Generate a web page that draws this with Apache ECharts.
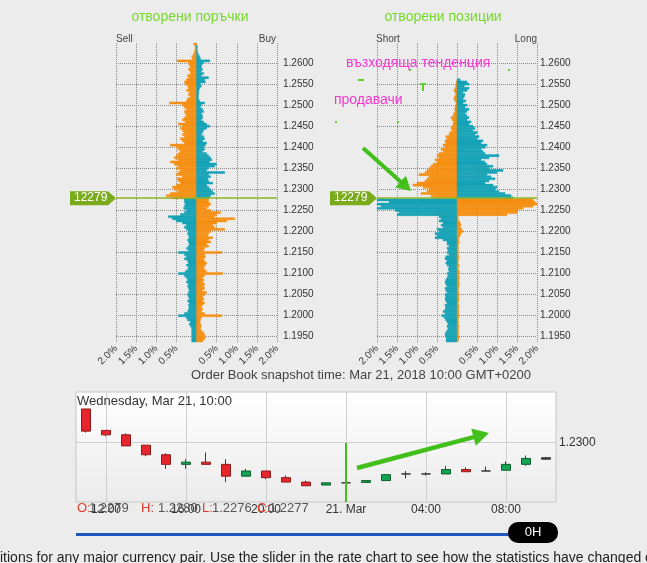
<!DOCTYPE html>
<html><head><meta charset="utf-8">
<script src="https://cdn.jsdelivr.net/npm/echarts@6/dist/echarts.min.js"></script>
<style>html,body{margin:0;padding:0;background:#ececec;overflow:hidden}#c{width:647px;height:563px}</style>
</head><body><div id="c"></div>
<script>
// ---------- DATA ----------
const priceTop = 1.2645, priceStep = 0.0005, bucketCount = 142;
const currentPrice = 1.2279;
const currentPriceText = '12279';
const gridPrices = [1.26,1.255,1.25,1.245,1.24,1.235,1.23,1.225,1.22,1.215,1.21,1.205,1.2,1.195];

// open orders (top bucket -> bottom bucket), % of total
const orderLeft = [
 0.07,0.04,0.03,0.05,0.06,0.08,0.12,0.10,0.48,0.20,
 0.18,0.15,0.20,0.16,0.15,0.22,0.20,0.25,0.30,0.28,
 0.22,0.20,0.25,0.18,0.20,0.15,0.22,0.25,0.67,0.35,
 0.30,0.25,0.30,0.28,0.25,0.30,0.35,0.28,0.45,0.35,
 0.40,0.35,0.30,0.35,0.30,0.40,0.35,0.30,0.65,0.50,
 0.45,0.40,0.45,0.50,0.55,0.45,0.65,0.55,0.45,0.50,
 0.40,0.45,0.50,0.35,0.48,0.45,0.40,0.50,0.60,0.55,
 0.45,0.65,0.75,0.60,0.30,0.30,0.28,0.30,0.32,0.25,
 0.30,0.40,0.70,0.60,0.50,0.35,0.25,0.30,0.25,0.20,
 0.22,0.20,0.18,0.22,0.20,0.18,0.20,0.25,0.20,0.45,
 0.30,0.25,0.30,0.22,0.20,0.25,0.20,0.22,0.28,0.45,
 0.30,0.25,0.22,0.25,0.20,0.22,0.20,0.18,0.20,0.22,
 0.20,0.18,0.22,0.18,0.20,0.18,0.20,0.22,0.30,0.45,
 0.25,0.22,0.15,0.18,0.15,0.12,0.12,0.12,0.12,0.12,
 0.12,0.12];
const orderRight = [
 0.00,0.02,0.02,0.02,0.03,0.05,0.08,0.10,0.33,0.17,
 0.13,0.12,0.15,0.12,0.18,0.12,0.30,0.20,0.22,0.10,
 0.12,0.08,0.06,0.06,0.05,0.05,0.05,0.08,0.20,0.12,
 0.10,0.15,0.18,0.12,0.15,0.15,0.12,0.18,0.25,0.33,
 0.25,0.18,0.15,0.12,0.18,0.20,0.15,0.25,0.22,0.18,
 0.20,0.15,0.25,0.30,0.35,0.38,0.32,0.50,0.45,0.30,
 0.25,0.70,0.30,0.35,0.28,0.30,0.40,0.25,0.30,0.35,
 0.40,0.45,0.35,0.30,0.30,0.30,0.35,0.30,0.25,0.35,
 0.60,0.50,0.45,0.95,0.75,0.50,0.40,0.45,0.70,0.35,
 0.30,0.28,0.40,0.30,0.35,0.25,0.30,0.20,0.18,0.63,
 0.20,0.22,0.18,0.20,0.25,0.22,0.18,0.20,0.25,0.65,
 0.20,0.15,0.18,0.15,0.20,0.18,0.20,0.15,0.25,0.20,
 0.15,0.18,0.15,0.20,0.15,0.12,0.15,0.12,0.20,0.62,
 0.12,0.10,0.08,0.10,0.12,0.10,0.12,0.18,0.20,0.22,
 0.20,0.15];
// open positions
const positionLeft = [
 0,0,0,0,0,0,0,0,0,0,
 0,0,0,0,0,0,0,0,0.02,0.02,
 0.03,0.05,0.08,0.05,0.03,0.06,0.08,0.05,0.02,0.03,
 0.05,0.06,0.05,0.08,0.10,0.15,0.12,0.08,0.10,0.12,
 0.15,0.12,0.18,0.20,0.28,0.25,0.30,0.28,0.35,0.30,
 0.40,0.35,0.45,0.50,0.45,0.55,0.50,0.60,0.65,0.70,
 0.75,0.80,0.95,0.70,0.75,0.80,1.00,1.10,0.85,0.70,
 0.75,0.90,0.65,0.60,2.00,1.70,2.00,1.90,2.00,1.55,
 1.45,1.50,0.45,0.40,0.45,0.35,0.40,0.35,0.50,0.45,
 0.55,0.50,0.55,0.35,0.25,0.25,0.20,0.25,0.22,0.25,
 0.20,0.28,0.30,0.25,0.28,0.25,0.20,0.22,0.20,0.25,
 0.22,0.25,0.28,0.30,0.28,0.25,0.30,0.28,0.25,0.30,
 0.28,0.30,0.28,0.25,0.30,0.28,0.30,0.35,0.30,0.38,
 0.32,0.28,0.25,0.22,0.25,0.22,0.25,0.28,0.30,0.28,
 0.27,0.27];
const positionRight = [
 0,0,0,0,0,0,0,0,0,0,
 0,0,0,0,0,0,0,0.08,0.25,0.30,
 0.18,0.30,0.25,0.15,0.20,0.18,0.15,0.22,0.15,0.25,
 0.20,0.30,0.25,0.20,0.25,0.30,0.25,0.35,0.30,0.40,
 0.45,0.40,0.50,0.45,0.55,0.50,0.65,0.60,0.75,0.70,
 0.60,0.65,0.70,1.05,0.80,0.60,0.70,0.75,0.90,0.80,
 1.15,1.00,0.75,0.85,0.95,0.80,0.70,0.90,1.00,0.95,
 1.05,1.20,1.35,1.40,1.90,1.95,2.00,1.90,1.65,1.50,
 1.50,1.25,0.03,0.03,0.05,0.08,0.10,0.08,0.12,0.15,
 0.10,0.08,0.05,0.04,0.05,0.04,0.03,0.04,0.03,0.04,
 0.03,0.05,0.04,0.03,0.03,0.05,0.04,0.03,0.06,0.05,
 0.04,0.06,0.05,0.04,0.06,0.05,0.04,0.03,0.04,0.05,
 0.04,0.05,0.04,0.03,0.04,0.05,0.04,0.05,0.04,0.05,
 0.04,0.03,0.04,0.03,0.05,0.04,0.03,0.04,0.04,0.05,
 0.04,0.03];

// hourly candles: [open, close, low, high]
const candleTimes = ['11:00','12:00','13:00','14:00','15:00','16:00','17:00','18:00','19:00','20:00','21:00','22:00',
 '23:00','21. Mar','01:00','02:00','03:00','04:00','05:00','06:00','07:00','08:00','09:00','10:00'];
const candleOHLC = [
 [1.2345,1.2315,1.2313,1.2345],[1.2316,1.2310,1.2308,1.2316],[1.2310,1.2295,1.2295,1.2312],
 [1.2296,1.2283,1.2281,1.2296],[1.2283,1.2270,1.2264,1.2285],[1.2270,1.2273,1.2264,1.2277],
 [1.2273,1.2270,1.2270,1.2286],[1.2270,1.2254,1.2246,1.2277],[1.2254,1.2261,1.2254,1.2264],
 [1.2261,1.2252,1.2250,1.2261],[1.2252,1.2246,1.2246,1.2255],[1.2246,1.2241,1.2241,1.2248],
 [1.2242,1.2245,1.2242,1.2245],[1.2245,1.2245,1.2243,1.2247],[1.22455,1.2248,1.22455,1.2248],
 [1.2248,1.2256,1.2248,1.2256],[1.2257,1.2257,1.2251,1.2261],[1.2257,1.2257,1.2255,1.2259],
 [1.2257,1.2263,1.2257,1.2268],[1.2263,1.2260,1.2260,1.2266],[1.2261,1.2261,1.2261,1.2267],
 [1.2262,1.2270,1.2262,1.2274],[1.2270,1.2278,1.2268,1.2282],[1.2279,1.2277,1.2276,1.2280]];
const lastOHLC = {O:'1.2279', H:'1.2280', L:'1.2276', C:'1.2277'};
const candleGridPrice = 1.23;
const candleGridIdx = [1,5,9,13,17,21];

// ---------- CHART ----------
const ORANGE = '#f68f12', TEAL = '#14a2b6', GREEN = '#43bf1c';
const FONT = 'Liberation Sans, Arial, sans-serif';
const categories = [];
for (let i = 0; i < bucketCount; i++) categories.push((priceTop - i * priceStep).toFixed(4));

const chart = echarts.init(document.getElementById('c'), null, {renderer: 'canvas'});

function pctAxis(gi) {
  return {type:'value', gridIndex:gi, min:-2, max:2, interval:0.5,
    axisLine:{show:false}, axisTick:{show:false},
    axisLabel:{rotate:45, fontSize:10, color:'#333', fontFamily:FONT, margin:5,
      formatter: v => v === 0 ? '' : Math.abs(v).toFixed(1) + '%'},
    splitLine:{show:true, lineStyle:{type:'dotted', color:'#8a8a8a', width:1}}};
}
function catAxis(gi, margin) {
  return {type:'category', gridIndex:gi, data:categories, inverse:true, position:'right',
    axisLine:{show:false}, axisTick:{show:false}, splitLine:{show:false},
    axisLabel:{interval:(idx, val) => Math.round(parseFloat(val) * 10000) % 50 === 0,
      fontSize:10, color:'#333', fontFamily:FONT, margin:margin}};
}
function priceAxis(gi) {
  return {type:'value', gridIndex:gi, show:false,
    min: priceTop - (bucketCount - 0.5) * priceStep, max: priceTop + priceStep / 2};
}
function bookSeries(gi, left, right) {
  const data = [];
  categories.forEach((c, i) => {
    const p = parseFloat(c);
    if (left[i] > 0) data.push([p, -left[i]]);
    if (right[i] > 0) data.push([p, right[i]]);
  });
  return {type:'custom', xAxisIndex:gi, yAxisIndex:gi + 2, data, encode:{x:1, y:0}, z:3, silent:true,
    renderItem:(params, api) => {
      const p = api.value(0), v = api.value(1);
      const color = ((v < 0) === (p > currentPrice)) ? ORANGE : TEAL;
      const a = api.coord([0, p + priceStep / 2]), b = api.coord([v, p - priceStep / 2]);
      return {type:'rect', shape:{x:Math.min(a[0], b[0]), y:a[1], width:Math.abs(b[0] - a[0]), height:b[1] - a[1]},
        style:{fill:color, stroke:color, lineWidth:0.4}};
    }};
}
function panelSeries(gi, left, right) {
  return [
    {type:'line', xAxisIndex:gi, yAxisIndex:gi + 2, data:[], silent:true, z:1,
      markLine:{z:1, symbol:'none', silent:true, animation:false, precision:6, label:{show:false},
        lineStyle:{type:'dotted', color:'#8a8a8a', width:1},
        data: gridPrices.map(p => ({yAxis:p}))}},
    bookSeries(gi, left, right),
    {type:'line', xAxisIndex:gi, yAxisIndex:gi + 2, data:[], silent:true, z:5,
      markLine:{z:6, symbol:'none', silent:true, animation:false, precision:6, label:{show:false},
        lineStyle:{type:'solid', color:'#8cb526', width:1.5},
        data:[{yAxis:currentPrice}]}}
  ];
}

const candleData = candleOHLC.map((v, i) => i === candleOHLC.length - 1
  ? {value:v, itemStyle:{color:'#555', color0:'#555', borderColor:'#333', borderColor0:'#333', borderColorDoji:'#333'}}
  : v);

const option = {
  animation:false,
  backgroundColor:'#ececec',
  grid:[
    {left:116, top:43, width:161, height:299},
    {left:377, top:43, width:160, height:299},
    {left:76, top:392, width:480, height:110, show:true, borderColor:'#c6c6c6', borderWidth:1,
      backgroundColor:{type:'linear', x:0, y:0, x2:0, y2:1,
        colorStops:[{offset:0, color:'#ffffff'}, {offset:1, color:'#ebebeb'}]}}
  ],
  xAxis:[pctAxis(0), pctAxis(1),
    {type:'category', gridIndex:2, data:candleTimes, boundaryGap:true,
      axisLine:{show:false}, axisTick:{show:false}, splitLine:{show:false},
      axisLabel:{interval:(i) => i % 4 === 1, color:'#333', fontSize:12, fontFamily:FONT, margin:2}}],
  yAxis:[catAxis(0, 6), catAxis(1, 3), priceAxis(0), priceAxis(1),
    {type:'value', gridIndex:2, min:1.2219, max:1.2368, position:'right',
      axisLine:{show:false}, axisTick:{show:false}, axisLabel:{show:false}, splitLine:{show:false}}],
  series:[
    ...panelSeries(0, orderLeft, orderRight),
    ...panelSeries(1, positionLeft, positionRight),
    {type:'line', xAxisIndex:2, yAxisIndex:4, data:[], silent:true, z:1,
      markLine:{z:1, symbol:'none', silent:true, animation:false, precision:6,
        lineStyle:{type:'solid', color:'#cfcfcf', width:1},
        label:{show:false},
        data:[...candleGridIdx.map(i => ({xAxis:i})),
          {yAxis:candleGridPrice, label:{show:true, position:'end', distance:3,
            formatter: () => candleGridPrice.toFixed(4), color:'#333', fontSize:12, fontFamily:FONT}}]}},
    {type:'candlestick', xAxisIndex:2, yAxisIndex:4, data:candleData, barWidth:10, z:3, silent:true,
      itemStyle:{color:'#17a553', color0:'#e5262c', borderColor:'#0d5e2f', borderColor0:'#8e1b1b',
        borderColorDoji:'#333', borderWidth:1}}
  ]
};
chart.setOption(option);

// ---------- annotations ----------
function arrow(x1, y1, x2, y2, w, hl, hw, color) {
  const L = Math.hypot(x2 - x1, y2 - y1), ux = (x2 - x1) / L, uy = (y2 - y1) / L;
  const bx = x2 - ux * hl, by = y2 - uy * hl, px = -uy, py = ux;
  return [
    {type:'line', shape:{x1, y1, x2:bx + ux * 2, y2:by + uy * 2}, style:{stroke:color, lineWidth:w}, z:50},
    {type:'polygon', shape:{points:[[x2, y2], [bx + px * hw / 2, by + py * hw / 2], [bx - px * hw / 2, by - py * hw / 2]]},
      style:{fill:color}, z:50}
  ];
}
function txt(x, y, text, size, color, align, extra) {
  return {type:'text', x, y, z:60, style:Object.assign({text, fontSize:size, fill:color,
    fontFamily:FONT, align:align || 'left', verticalAlign:'middle'}, extra || {})};
}
const g = [];
g.push(txt(190, 17, 'отворени поръчки', 14, '#76d92b', 'center'));
g.push(txt(443, 17, 'отворени позиции', 14, '#76d92b', 'center'));
g.push(txt(116, 39, 'Sell', 10, '#444'));
g.push(txt(276, 39, 'Buy', 10, '#444', 'right'));
g.push(txt(376, 39, 'Short', 10, '#444'));
g.push(txt(537, 39, 'Long', 10, '#444', 'right'));
g.push(txt(361, 375, 'Order Book snapshot time: Mar 21, 2018 10:00 GMT+0200', 13, '#444', 'center'));
g.push(txt(346, 63, 'възходяща тенденция', 14, '#f03ad0'));
g.push(txt(334, 100, 'продавачи', 14, '#f03ad0'));
[[358,79,6,2],[420,83,6,2],[422,83,2,8],[335,121,2,2],[397,121,2,2],[409,69,2,2],[508,69,2,2]].forEach(r =>
  g.push({type:'rect', shape:{x:r[0], y:r[1], width:r[2], height:r[3]}, style:{fill:'#5fd12c'}, z:50}));
[[0, 70, 116], [1, 330, 377]].forEach(([gi, x0, x1]) => {
  const y = chart.convertToPixel({yAxisIndex:gi + 2}, currentPrice);
  g.push({type:'polygon', shape:{points:[[x0, y - 7], [x1 - 8, y - 7], [x1, y], [x1 - 8, y + 7], [x0, y + 7]]},
    style:{fill:'#7aab1c'}, z:55});
  g.push(txt(x0 + 4, y, currentPriceText, 12, '#fff'));
});
g.push(...arrow(363, 148, 411, 191, 4, 14, 16, GREEN));
g.push(...arrow(357, 468, 489, 433, 4.5, 16, 18, GREEN));
g.push({type:'line', shape:{x1:346, y1:443, x2:346, y2:502}, style:{stroke:GREEN, lineWidth:2}, z:50});
g.push(txt(77, 401, 'Wednesday, Mar 21, 10:00', 13, '#333'));
const RED = '#e23a2c', VAL = '#555';
[[77,'O:',RED],[89,lastOHLC.O,VAL],[141,'H:',RED],[158,lastOHLC.H,VAL],[202,'L:',RED],[212,lastOHLC.L,VAL],
 [257,'C:',RED],[269,lastOHLC.C,VAL]].forEach(([x, t, c]) => g.push(txt(x, 508, t, 13, c)));
g.push({type:'line', shape:{x1:76, y1:534.5, x2:512, y2:534.5}, style:{stroke:'#1f56b9', lineWidth:3}, z:50});
g.push({type:'rect', shape:{x:508, y:522, width:50, height:21, r:10}, style:{fill:'#000'}, z:51});
g.push(txt(533, 532.5, '0H', 13, '#fff', 'center'));
g.push({type:'text', x:0, y:551, z:60, style:{text:'itions for any major currency pair. Use the slider in the rate chart to see how the statistics have changed over time.',
  fontSize:14, fill:'#222', fontFamily:FONT, verticalAlign:'top'}});
chart.setOption({graphic:{elements:g}});
</script>
</body></html>
